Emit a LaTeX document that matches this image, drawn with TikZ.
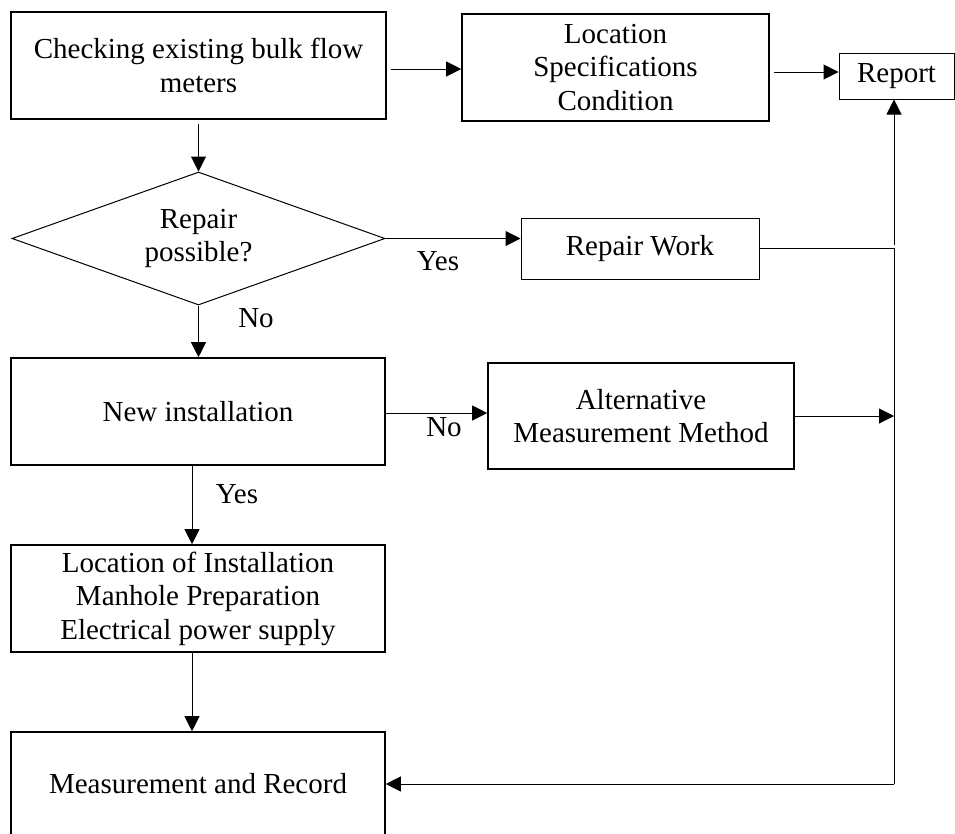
\documentclass[tikz,border=0pt]{standalone}
\usepackage{fontspec}
\setmainfont{Liberation Serif}
\usetikzlibrary{shapes.geometric,arrows.meta}
\begin{document}
\begin{tikzpicture}[x=1pt,y=-1pt,
  every node/.style={font=\fontsize{29}{33.5}\selectfont},
  thickbox/.style={draw,line width=1.6pt,rectangle,inner sep=0pt,align=center},
  thinbox/.style={draw,line width=1pt,rectangle,inner sep=0pt,align=center},
  decision/.style={draw,line width=1pt,diamond,inner sep=0pt,align=center,shape aspect=2.8},
  conn/.style={line width=1pt},
  arr/.style={conn,-{Triangle[length=15pt,width=15pt]}},
  lbl/.style={inner sep=0pt}]
\useasboundingbox (0,0) rectangle (955,833);

% boxes
\node[thickbox,minimum width=375pt,minimum height=107pt] (check) at (198.5,65.5)
  {Checking existing bulk flow\\meters};
\node[thickbox,minimum width=307pt,minimum height=107pt] (spec) at (615.5,67.5)
  {Location\\Specifications\\Condition};
\node[thinbox,minimum width=115pt,minimum height=46pt] (report) at (896.5,76) {Report};
\node[decision,minimum width=373pt,minimum height=133pt] (repq) at (198.5,238.5)
  {Repair\\possible?};
\node[thinbox,minimum width=238pt,minimum height=61pt] (repair) at (640,248.5) {Repair Work};
\node[thickbox,minimum width=374pt,minimum height=107pt] (newinst) at (198,411.5)
  {New installation};
\node[thickbox,minimum width=306pt,minimum height=106pt] (alt) at (641,416)
  {Alternative\\Measurement Method};
\node[thickbox,minimum width=374pt,minimum height=107pt] (locinst) at (198,598.5)
  {Location of Installation\\Manhole Preparation\\Electrical power supply};
\node[thickbox,minimum width=374pt,minimum height=104pt] (measure) at (198,784)
  {Measurement and Record};

% collecting line on the right
\coordinate (vtop) at (894,245);
\coordinate (vbot) at (894,784);

% connectors
\draw[arr] ([xshift=4pt,yshift=-3.5pt]check.east) -- ([yshift=-3.5pt]check.east -| spec.west);
\draw[arr] ([xshift=4pt,yshift=-4.5pt]spec.east) -- ([yshift=-4.5pt]spec.east -| report.west);
\draw[arr] ([yshift=-4pt]check.south) -- (repq.north);
\draw[arr] (repq.east) -- (repq.east -| repair.west);
\draw[arr] (repq.south) -- (repq.south |- newinst.north);
\draw[arr] ([yshift=-1.5pt]newinst.east) -- ([yshift=-1.5pt]newinst.east -| alt.west);
\draw[arr] ([xshift=-6pt]newinst.south) -- ([xshift=-6pt]locinst.north);
\draw[arr] ([xshift=-6pt]locinst.south) -- ([xshift=-6pt]measure.north);
\draw[conn] (repair.east) -| (vbot);
\draw[arr] (vbot) -- (measure.east);
\draw[arr] (vtop) -- (vtop |- report.south);
\draw[arr] (alt.east) -- (alt.east -| vbot);

% branch labels
\node[lbl] (yes1) at (438,261) {Yes};
\node[lbl] (no1) at (256,318) {No};
\node[lbl] (no2) at (444,427) {No};
\node[lbl] (yes2) at (237,494) {Yes};
\end{tikzpicture}
\end{document}
